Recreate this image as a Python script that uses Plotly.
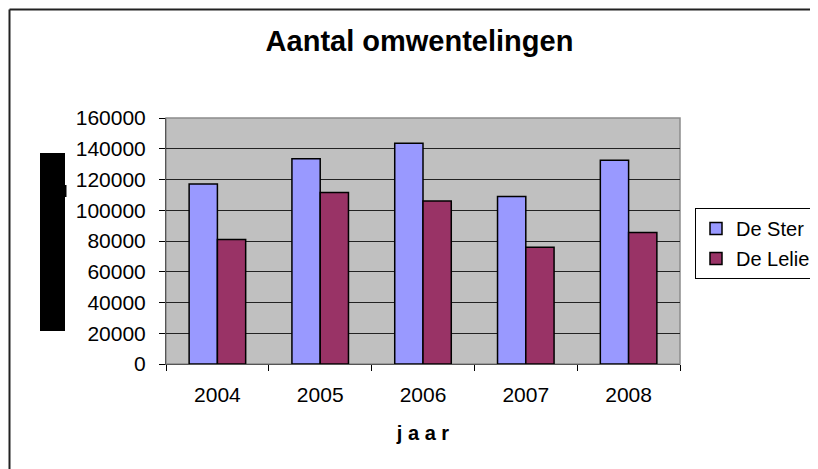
import plotly.graph_objects as go

years = ["2004", "2005", "2006", "2007", "2008"]
de_ster = [117000, 133500, 143500, 109000, 132500]
de_lelie = [81000, 111500, 106000, 76000, 85500]
y_ticks = [0, 20000, 40000, 60000, 80000, 100000, 120000, 140000, 160000]

OFF = 8  # page body margin
W, H = 818 - OFF, 469 - OFF
# plot area in screen pixels
SL, SR, ST, SB = 166, 680, 118, 364
L, R, T, B = SL - OFF, SR - OFF, ST - OFF, SB - OFF

def px(x):
    return (x - SL) / (SR - SL)

def py(y):
    return (SB - y) / (SB - ST)

FONT = "Liberation Sans, Arial, sans-serif"

fig = go.Figure()
fig.add_trace(go.Bar(x=years, y=de_ster, name="De Ster", legendgroup="a",
                     marker=dict(color="#9999FF", line=dict(color="#000000", width=1.5))))
fig.add_trace(go.Bar(x=years, y=de_lelie, name="De Lelie", legendgroup="b",
                     marker=dict(color="#993366", line=dict(color="#000000", width=1.5))))

fig.update_layout(
    width=W, height=H,
    margin=dict(l=L, r=W - R, t=T, b=H - B, autoexpand=False),
    paper_bgcolor="#FFFFFF",
    plot_bgcolor="#C0C0C0",
    barmode="group", bargap=0.45, bargroupgap=0,
    font=dict(family=FONT, size=21, color="#000000"),
    title=dict(text="<b>Aantal omwentelingen</b>", font=dict(family=FONT, size=29, color="#000000"),
               xref="container", x=(419.5 - OFF) / W, xanchor="center",
               yref="container", y=1 - (41 - OFF) / H, yanchor="middle"),
    legend=dict(x=px(695), y=py(208), xanchor="left", yanchor="top",
                bordercolor="#000000", borderwidth=1, bgcolor="#FFFFFF",
                font=dict(family=FONT, size=20), tracegroupgap=1,
                traceorder="grouped"),
    showlegend=True,
)

fig.update_xaxes(
    showline=True, linecolor="#555555", linewidth=1,
    ticks="outside", tickson="boundaries", ticklen=6, tickcolor="#000000",
    ticklabelstandoff=12,
    tickfont=dict(family=FONT, size=21),
    title=dict(text="<b>j a a r</b>", font=dict(family=FONT, size=20), standoff=20),
    showgrid=False, mirror=False,
)
fig.update_yaxes(
    range=[0, 160000], tickvals=y_ticks, ticktext=[str(v) for v in y_ticks],
    showline=True, linecolor="#555555", linewidth=1,
    ticks="outside", ticklen=6, tickcolor="#000000",
    ticklabelstandoff=9,
    tickfont=dict(family=FONT, size=21),
    showgrid=True, gridcolor="#222222", gridwidth=1,
    zeroline=False,
)

# plot area border (light grey top/right)
fig.add_shape(type="rect", xref="paper", yref="paper", x0=0, y0=0, x1=1, y1=1,
              line=dict(color="#8C8C8C", width=1.5), layer="below")
# outer chart border (top and left visible)
fig.add_shape(type="line", xref="paper", yref="paper",
              x0=px(9.5), y0=py(9.5), x1=px(830), y1=py(9.5),
              line=dict(color="#222222", width=2))
fig.add_shape(type="line", xref="paper", yref="paper",
              x0=px(9.5), y0=py(9.5), x1=px(9.5), y1=py(480),
              line=dict(color="#222222", width=2))
# black redaction block over the y-axis title
fig.add_shape(type="rect", xref="paper", yref="paper",
              x0=px(40), y0=py(153), x1=px(65), y1=py(331),
              fillcolor="#000000", line=dict(width=0))
fig.add_shape(type="rect", xref="paper", yref="paper",
              x0=px(64), y0=py(185), x1=px(66.5), y1=py(197),
              fillcolor="#000000", line=dict(width=0))

fig.write_html("out.html")
